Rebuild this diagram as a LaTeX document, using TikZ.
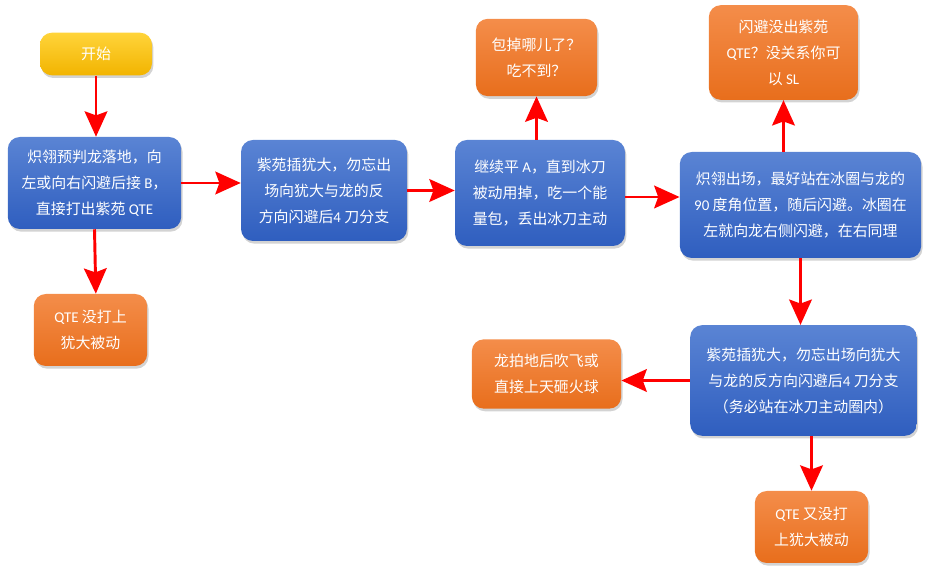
\documentclass[tikz,border=0pt]{standalone}
\usepackage{fontspec}
\setmainfont{Noto Sans CJK SC}
\newfontfamily\lat{Carlito}
\usepackage{tikz}
\usetikzlibrary{arrows.meta,shadows}

\definecolor{bluetop}{HTML}{5A84D4}
\definecolor{bluebot}{HTML}{2F5EBF}
\definecolor{orgtop}{HTML}{F48D4A}
\definecolor{orgbot}{HTML}{E86E1C}
\definecolor{yeltop}{HTML}{FFD43A}
\definecolor{yelbot}{HTML}{F2B400}

\begin{document}
\begin{tikzpicture}[x=0.75pt,y=-0.75pt,
  base node/.style={rectangle,rounded corners=9pt,align=center,text=white,
    font=\fontsize{11.2}{19.5}\selectfont,inner sep=2pt,
    drop shadow={opacity=0.35,shadow xshift=1pt,shadow yshift=-2pt}},
  main node/.style={base node,top color=bluetop,bottom color=bluebot},
  sub node/.style={base node,top color=orgtop,bottom color=orgbot},
  start node/.style={base node,top color=yeltop,bottom color=yelbot},
  red line/.style={red,line width=2.2pt,-{Stealth[length=19pt,width=17pt,inset=3pt]}}]

  \useasboundingbox (0,0) rectangle (933,580);

  \node[start node,minimum width=84pt,minimum height=32pt] (0) at (96,54) {开始};
  \node[main node,minimum width=130pt,minimum height=69pt] (1) at (94.5,183)
    {炽翎预判龙落地，向\\左或向右闪避后接 {\lat B}，\\直接打出紫苑 {\lat QTE}};
  \node[sub node,minimum width=85pt,minimum height=54pt] (2) at (90.5,330)
    {{\lat QTE} 没打上\\犹大被动};
  \node[main node,minimum width=124.5pt,minimum height=75.75pt] (3) at (324,190.5)
    {紫苑插犹大，勿忘出\\场向犹大与龙的反\\方向闪避后{\lat 4} 刀分支};
  \node[main node,minimum width=127.5pt,minimum height=79.5pt] (4) at (540,193)
    {继续平 {\lat A}，直到冰刀\\被动用掉，吃一个能\\量包，丢出冰刀主动};
  \node[sub node,minimum width=91pt,minimum height=58pt] (5) at (536.5,57.5)
    {包掉哪儿了？\\吃不到？};
  \node[main node,minimum width=181pt,minimum height=79.5pt] (6) at (800.5,205)
    {炽翎出场，最好站在冰圈与龙的\\{\lat 90} 度角位置，随后闪避。冰圈在\\左就向龙右侧闪避，在右同理};
  \node[sub node,minimum width=112pt,minimum height=71pt] (7) at (783.5,52.5)
    {闪避没出紫苑\\{\lat QTE}？没关系你可\\以 {\lat SL}};
  \node[main node,minimum width=170pt,minimum height=83pt] (8) at (803.5,380.5)
    {紫苑插犹大，勿忘出场向犹大\\与龙的反方向闪避后{\lat 4} 刀分支\\（务必站在冰刀主动圈内）};
  \node[sub node,minimum width=112pt,minimum height=52pt] (9) at (546.5,374)
    {龙拍地后吹飞或\\直接上天砸火球};
  \node[sub node,minimum width=85pt,minimum height=54pt] (10) at (811.5,527)
    {{\lat QTE} 又没打\\上犹大被动};

  \draw[red line] (0.south) -- (0.south |- 1.north);
  \draw[red line] (1.south) -- ([xshift=4pt]2.north);
  \draw[red line] (1.east) -- (3.west |- 1.east);
  \draw[red line] (3.east) -- (4.west |- 3.east);
  \draw[red line] ([yshift=-3pt]4.east) -- ([yshift=-3pt]6.west |- 4.east);
  \draw[red line] (4.north -| 5.south) -- (5.south);
  \draw[red line] (6.north -| 7.south) -- (7.south);
  \draw[red line] (6.south) -- (6.south |- 8.north);
  \draw[red line] (8.west) -- (9.east |- 8.west);
  \draw[red line] (8.south -| 10.south) -- (10.north);

\end{tikzpicture}
\end{document}
